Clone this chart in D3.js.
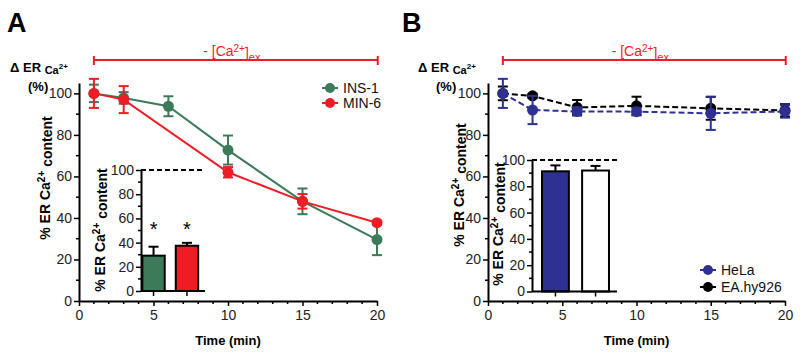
<!DOCTYPE html>
<html>
<head>
<meta charset="utf-8">
<script src="https://cdn.jsdelivr.net/npm/d3@7"></script>
<style>
  body { margin: 0; background: #fff; }
  svg { font-family: Arial, "Liberation Sans", sans-serif; }
</style>
</head>
<body>
<div id="chart"></div>
<script>
// ---- data ----
var timeA = [1, 3, 6, 10, 15, 20];
var ins1 = [100, 97.8, 93.8, 72.7, 48, 29.6];
var ins1Err = [4.2, 2.8, 4.8, 7, 6.2, 7.5];
var timeMin6 = [1, 3, 10, 15, 20];
var min6 = [100, 97, 62, 48, 37.7];
var min6Err = [7, 6.5, 2.5, 3.5, 1];

var timeB = [1, 3, 6, 10, 15, 20];
var hela = [100, 92, 91.3, 91.2, 90.4, 91.3];
var helaErr = [7, 6.8, 2, 1.8, 8, 3];
var eahy = [100, 98.8, 93.2, 94, 92.8, 91.8];
var eahyErr = [3.3, 1, 3.6, 4.4, 5.5, 3];

var insetCatA = ["INS-1", "MIN-6"];
var insetA = [29.2, 37.4];
var insetAErr = [7.4, 2.4];
var insetCatB = ["HeLa", "EA.hy926"];
var insetB = [91.4, 92];
var insetBErr = [4.5, 3.5];

var xTicks = [0, 5, 10, 15, 20];
var yTicks = [0, 20, 40, 60, 80, 100];

var GREEN = "#3d7a5a", RED = "#ee1c25", BLUE = "#2e3192", BLACK = "#000";

var svg = d3.select("#chart").append("svg")
    .attr("width", 800)
    .attr("height", 356);

// draws main axes + labels for a panel
function drawPanel(p) {
  var g = svg.append("g");
  var x = p.x, y = p.y;

  // panel letter
  g.append("text")
    .attr("x", p.letterX).attr("y", 32)
    .style("font-size", "27px").style("font-weight", "bold")
    .text(p.letter);

  // -[Ca2+]ex bar
  var bx0 = x(1), bx1 = x(20.05);
  g.append("line").attr("x1", bx0).attr("x2", bx1).attr("y1", 60).attr("y2", 60)
    .style("stroke", RED).style("stroke-width", 2);
  [bx0, bx1].forEach(function(bx) {
    g.append("line").attr("x1", bx).attr("x2", bx).attr("y1", 56).attr("y2", 65)
      .style("stroke", RED).style("stroke-width", 2);
  });
  var bt = g.append("text")
    .attr("x", (bx0 + bx1) / 2 - 4).attr("y", 56)
    .style("text-anchor", "middle").style("font-size", "14px").style("fill", RED);
  bt.append("tspan").text("- [Ca");
  bt.append("tspan").attr("dy", "-0.45em").style("font-size", "10px").text("2+");
  bt.append("tspan").attr("dy", "0.45em").text("]");
  bt.append("tspan").attr("dy", "0.3em").style("font-size", "11px").text("ex");

  // Delta ER Ca2+ (%)
  var dt = g.append("text")
    .attr("x", p.deltaX).attr("y", 72)
    .style("font-size", "13px").style("font-weight", "bold");
  dt.append("tspan").text("\u0394 ER ");
  dt.append("tspan").attr("dy", "0.15em").style("font-size", "11px").text("Ca");
  dt.append("tspan").attr("dy", "-0.55em").style("font-size", "8px").text("2+");
  g.append("text")
    .attr("x", p.deltaX + 18).attr("y", 91)
    .style("font-size", "13px").style("font-weight", "bold")
    .text("(%)");

  // axes
  var xAxis = g.append("g")
    .attr("transform", "translate(0," + y(0) + ")")
    .call(d3.axisBottom(x).tickValues(xTicks).tickSize(5).tickSizeOuter(0).tickPadding(4));
  xAxis.selectAll(".minor")
    .data(d3.range(0, 21).filter(function(d) { return d % 5 !== 0; }))
    .enter().append("line")
      .attr("x1", x).attr("x2", x).attr("y1", 0).attr("y2", 3)
      .style("stroke", "#000").style("stroke-width", 1.5);

  var yAxis = g.append("g")
    .attr("transform", "translate(" + x(0) + ",0)")
    .call(d3.axisLeft(y).tickValues(yTicks).tickSize(5).tickSizeOuter(0).tickPadding(2));
  yAxis.selectAll(".minor")
    .data([10, 30, 50, 70, 90])
    .enter().append("line")
      .attr("y1", y).attr("y2", y).attr("x1", 0).attr("x2", -3)
      .style("stroke", "#000").style("stroke-width", 1.5);

  [xAxis, yAxis].forEach(function(a) {
    a.select(".domain").style("stroke-width", 2);
    a.selectAll(".tick line").style("stroke-width", 1.5);
    a.selectAll(".tick text").style("font-size", "14px").style("fill", "#222");
  });

  // axis titles
  g.append("text")
    .attr("x", (x(0) + x(20)) / 2).attr("y", 345)
    .style("text-anchor", "middle").style("font-size", "13px").style("font-weight", "bold")
    .text("Time (min)");

  caLabel(g, p.yLabelX, p.yLabelY, "14px");
  return g;
}

function caLabel(g, cx, cy, size) {
  var t = g.append("text")
    .attr("transform", "translate(" + cx + "," + cy + ") rotate(-90)")
    .attr("dy", "0.35em")
    .style("text-anchor", "middle").style("font-size", size).style("font-weight", "bold");
  t.append("tspan").text("% ER Ca");
  t.append("tspan").attr("dy", "-0.5em").style("font-size", "10px").text("2+");
  t.append("tspan").attr("dy", "0.5em").text(" content");
}

function drawSeries(g, x, y, times, vals, errs, color, dash) {
  var pts = times.map(function(t, i) { return {t: t, v: vals[i], e: errs[i]}; });
  var line = d3.line().x(function(d) { return x(d.t); }).y(function(d) { return y(d.v); });
  g.append("path").datum(pts).attr("d", line)
    .style("fill", "none").style("stroke", color).style("stroke-width", 2)
    .style("stroke-dasharray", dash ? "6 3" : null);
  var eb = g.selectAll(null).data(pts).enter().append("g")
    .style("stroke", color).style("stroke-width", 2);
  eb.append("line").attr("x1", function(d) { return x(d.t); }).attr("x2", function(d) { return x(d.t); })
    .attr("y1", function(d) { return y(d.v + d.e); }).attr("y2", function(d) { return y(d.v - d.e); });
  eb.append("line").attr("x1", function(d) { return x(d.t) - 5; }).attr("x2", function(d) { return x(d.t) + 5; })
    .attr("y1", function(d) { return y(d.v + d.e); }).attr("y2", function(d) { return y(d.v + d.e); });
  eb.append("line").attr("x1", function(d) { return x(d.t) - 5; }).attr("x2", function(d) { return x(d.t) + 5; })
    .attr("y1", function(d) { return y(d.v - d.e); }).attr("y2", function(d) { return y(d.v - d.e); });
  g.selectAll(null).data(pts).enter().append("circle")
    .attr("cx", function(d) { return x(d.t); }).attr("cy", function(d) { return y(d.v); })
    .attr("r", 5.5).style("fill", color);
}

function legendItem(g, lx, ly, color, label) {
  g.append("line").attr("x1", lx - 8).attr("x2", lx + 8).attr("y1", ly).attr("y2", ly)
    .style("stroke", color).style("stroke-width", 2);
  g.append("circle").attr("cx", lx).attr("cy", ly).attr("r", 5).style("fill", color);
  g.append("text").attr("x", lx + 13).attr("y", ly + 5)
    .style("font-size", "14px").style("fill", "#111").text(label);
}

function drawInset(g, p) {
  var bx = d3.scaleBand().domain(p.cats).range([p.x0, p.x1])
    .paddingInner(0.33).paddingOuter(p.padOuter);
  var by = d3.scaleLinear().domain([0, 100]).range([p.yb, p.yt]);

  // dashed 100% reference
  g.append("line").attr("x1", p.x0).attr("x2", p.xEnd).attr("y1", by(100)).attr("y2", by(100))
    .style("stroke", "#000").style("stroke-width", 2).style("stroke-dasharray", "5 3");

  var bars = p.cats.map(function(c, i) { return {c: c, v: p.vals[i], e: p.errs[i], f: p.fills[i]}; });
  g.selectAll(null).data(bars).enter().append("line")
    .attr("x1", function(d) { return bx(d.c) + bx.bandwidth() / 2; })
    .attr("x2", function(d) { return bx(d.c) + bx.bandwidth() / 2; })
    .attr("y1", function(d) { return by(d.v); })
    .attr("y2", function(d) { return by(d.v + d.e); })
    .style("stroke", "#000").style("stroke-width", 2);
  g.selectAll(null).data(bars).enter().append("line")
    .attr("x1", function(d) { return bx(d.c) + bx.bandwidth() / 2 - 5; })
    .attr("x2", function(d) { return bx(d.c) + bx.bandwidth() / 2 + 5; })
    .attr("y1", function(d) { return by(d.v + d.e); })
    .attr("y2", function(d) { return by(d.v + d.e); })
    .style("stroke", "#000").style("stroke-width", 2);
  g.selectAll(null).data(bars).enter().append("rect")
    .attr("x", function(d) { return bx(d.c); })
    .attr("width", bx.bandwidth())
    .attr("y", function(d) { return by(d.v); })
    .attr("height", function(d) { return by(0) - by(d.v); })
    .style("fill", function(d) { return d.f; })
    .style("stroke", "#000").style("stroke-width", 2);

  if (p.stars) {
    g.selectAll(null).data(bars).enter().append("text")
      .attr("x", function(d) { return bx(d.c) + bx.bandwidth() / 2; })
      .attr("y", by(55) + 12)
      .style("text-anchor", "middle").style("font-size", "20px")
      .text("*");
  }

  // axes
  g.append("line").attr("x1", p.x0).attr("x2", p.xEnd).attr("y1", by(0)).attr("y2", by(0))
    .style("stroke", "#000").style("stroke-width", 2);
  g.selectAll(null).data(bars).enter().append("line")
    .attr("x1", function(d) { return bx(d.c) + bx.bandwidth() / 2; })
    .attr("x2", function(d) { return bx(d.c) + bx.bandwidth() / 2; })
    .attr("y1", by(0)).attr("y2", by(0) + 5)
    .style("stroke", "#000").style("stroke-width", 1.5);

  var ya = g.append("g").attr("transform", "translate(" + p.x0 + ",0)")
    .call(d3.axisLeft(by).tickValues(yTicks).tickSize(5).tickSizeOuter(0).tickPadding(2));
  ya.select(".domain").style("stroke-width", 2);
  ya.selectAll(".tick line").style("stroke-width", 1.5);
  ya.selectAll(".tick text").style("font-size", "14px").style("fill", "#222");
  ya.selectAll(".minor").data([10, 30, 50, 70, 90]).enter().append("line")
    .attr("y1", by).attr("y2", by).attr("x1", 0).attr("x2", -3)
    .style("stroke", "#000").style("stroke-width", 1.5);

  caLabel(g, p.labelX, p.labelY, "14px");
}

// ---- panel A ----
var xA = d3.scaleLinear().domain([0, 20]).range([79, 377]);
var yA = d3.scaleLinear().domain([0, 105]).range([301, 83]);
var gA = drawPanel({x: xA, y: yA, letter: "A", letterX: 7, deltaX: 10, yLabelX: 45, yLabelY: 178});
drawSeries(gA, xA, yA, timeA, ins1, ins1Err, GREEN, false);
drawSeries(gA, xA, yA, timeMin6, min6, min6Err, RED, false);
legendItem(gA, 330, 88, GREEN, "INS-1");
legendItem(gA, 330, 103, RED, "MIN-6");
drawInset(gA, {cats: insetCatA, vals: insetA, errs: insetAErr, fills: [GREEN, RED],
  x0: 141, x1: 199.5, xEnd: 205, padOuter: 0.04, yb: 291, yt: 170, stars: true,
  labelX: 100, labelY: 230});

// ---- panel B ----
var xB = d3.scaleLinear().domain([0, 20]).range([488, 785]);
var yB = d3.scaleLinear().domain([0, 105]).range([301, 83]);
var gB = drawPanel({x: xB, y: yB, letter: "B", letterX: 402, deltaX: 418, yLabelX: 459, yLabelY: 185});
drawSeries(gB, xB, yB, timeB, eahy, eahyErr, BLACK, true);
drawSeries(gB, xB, yB, timeB, hela, helaErr, BLUE, true);
legendItem(gB, 708, 270, BLUE, "HeLa");
legendItem(gB, 708, 287, BLACK, "EA.hy926");
drawInset(gB, {cats: insetCatB, vals: insetB, errs: insetBErr, fills: [BLUE, "#fff"],
  x0: 532, x1: 619, xEnd: 617, padOuter: 0.25, yb: 291.5, yt: 160, stars: false,
  labelX: 498, labelY: 224});
</script>
</body>
</html>
